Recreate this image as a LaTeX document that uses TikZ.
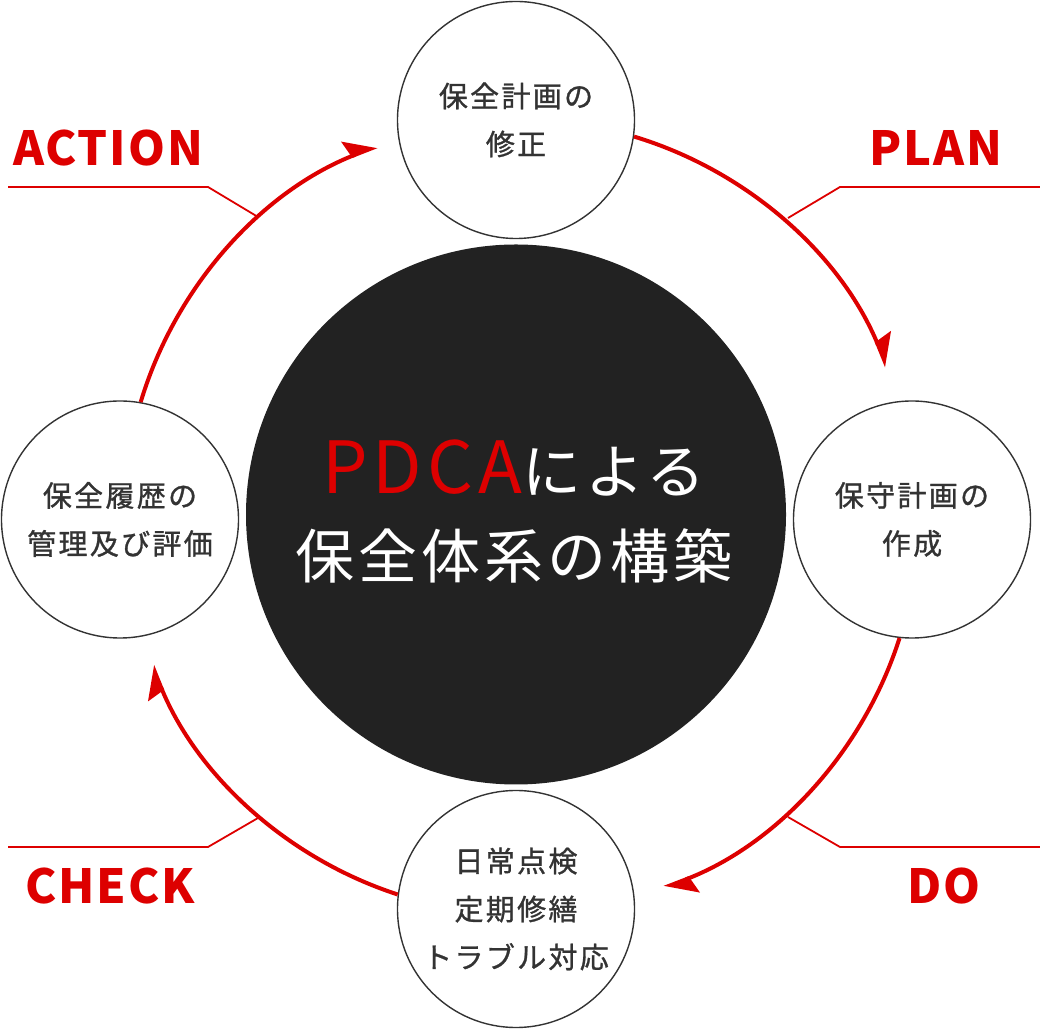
\documentclass[tikz,border=0pt]{standalone}
\usepackage{fontspec}
\usepackage{xcolor}
\usetikzlibrary{arrows.meta, positioning, calc}
\newfontfamily\jpcore{Noto Sans CJK JP}[LetterSpace=7]
\newfontfamily\jpstage{Noto Sans CJK JP}[LetterSpace=8, FakeBold=1]
\newfontfamily\jplabel{Noto Sans CJK JP}[LetterSpace=4]
\definecolor{pdcared}{HTML}{DD0000}
\definecolor{pdcadark}{HTML}{222222}
\definecolor{pdcagray}{HTML}{333333}

\begin{document}
\begin{tikzpicture}[x=1pt, y=1pt,
    stage/.style={circle, draw=pdcagray, line width=1.4pt, fill=white, minimum size=237pt,
      inner sep=0pt, align=center, text=pdcagray, font=\jpstage\fontsize{29}{48}\selectfont},
    cyclearrow/.style={draw=pdcared, line width=4pt, -{Stealth[harpoon, length=28pt, width=34pt, inset=4pt]}},
    leader/.style={draw=pdcared, line width=1.8pt},
    phase/.style={text=pdcared, anchor=base, font=\jplabel\bfseries\fontsize{47}{47}\selectfont}]
    \def\ring{397pt}

    \useasboundingbox (0,0) rectangle (1040,1030);

    \node[circle, fill=pdcadark, minimum size=540pt, inner sep=0pt] (core) at (516,515.5) {};
    \node[anchor=base, text=white, font=\jpcore\fontsize{59}{59}\selectfont] (title) at (514,536)
      {{\fontsize{72}{72}\selectfont\color{pdcared}PDCA}による};
    \node[anchor=base, text=white, font=\jpcore\fontsize{59}{59}\selectfont] (subtitle) at (514,451)
      {保全体系の構築};

    \node[stage] (revise) at (516,910) {保全計画の\\修正};
    \node[stage] (planning) at (912,510.5) {保守計画の\\作成};
    \node[stage] (maintain) at (516,121) {日常点検\\定期修繕\\トラブル対応};
    \node[stage] (review) at (120,510.5) {保全履歴の\\管理及び評価};

    \draw[cyclearrow] (review.80) arc[start angle=163.3, end angle=111.3, radius=\ring];
    \draw[cyclearrow] (revise.-8) arc[start angle=73.2, end angle=22.2, radius=\ring];
    \draw[cyclearrow] (planning.-96) arc[start angle=-17.7, end angle=-68.9, radius=\ring];
    \draw[cyclearrow] (maintain.173) arc[start angle=252, end angle=202, radius=\ring];

    \coordinate (actfoot) at (258,813);
    \coordinate (actknee) at (208,843);
    \coordinate (actend) at (8,843);
    \coordinate (planfoot) at (788,812);
    \coordinate (planknee) at (840,843);
    \coordinate (planend) at (1040,843);
    \coordinate (dofoot) at (788,213);
    \coordinate (doknee) at (840,183);
    \coordinate (doend) at (1040,183);
    \coordinate (checkfoot) at (258,212);
    \coordinate (checkknee) at (208,183);
    \coordinate (checkend) at (8,183);

    \draw[leader] (actfoot) -- (actknee) -- (actend);
    \draw[leader] (planfoot) -- (planknee) -- (planend);
    \draw[leader] (dofoot) -- (doknee) -- (doend);
    \draw[leader] (checkfoot) -- (checkknee) -- (checkend);

    \node[phase] (action) at (108,864) {ACTION};
    \node[phase] (plan) at (936,864) {PLAN};
    \node[phase] (do) at (944,127) {DO};
    \node[phase] (check) at (110,127) {CHECK};
  \end{tikzpicture}
\end{document}
